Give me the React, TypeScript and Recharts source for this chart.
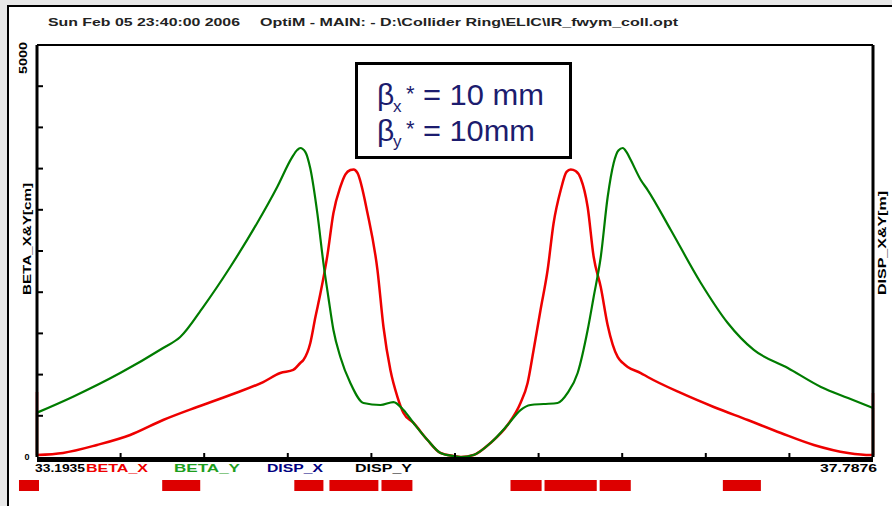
import React from 'react'
import { LineChart, Line, XAxis, YAxis, ReferenceArea } from 'recharts'

// s runs from the start of the plotted section (m); beta in cm
const S0 = 33.1935
const LEN = 4.5941

const BETA_X: [number, number][] = [
  [0, 24], [0.143, 49], [0.33, 146], [0.512, 267], [0.693, 449], [0.88, 607],
  [1.062, 752], [1.243, 910], [1.337, 1019], [1.408, 1056], [1.447, 1141], [1.464, 1177],
  [1.502, 1384], [1.53, 1699], [1.557, 1980], [1.596, 2450], [1.629, 2961], [1.667, 3277],
  [1.695, 3430], [1.722, 3483], [1.74, 3490], [1.761, 3447], [1.816, 2961], [1.871, 2269],
  [1.904, 1578], [1.942, 1056], [1.981, 728], [2.014, 534], [2.069, 413], [2.146, 206],
  [2.217, 49], [2.289, 12], [2.33, 0], [2.399, 24], [2.492, 170], [2.586, 388], [2.657, 655],
  [2.696, 898], [2.729, 1299], [2.767, 1784], [2.806, 2269], [2.839, 2840], [2.878, 3240],
  [2.91, 3460], [2.933, 3490], [2.96, 3470], [2.988, 3380], [3.026, 3034], [3.059, 2430],
  [3.098, 2063], [3.136, 1600], [3.191, 1214], [3.219, 1141], [3.246, 1092], [3.318, 1019],
  [3.356, 971], [3.538, 777], [3.719, 607], [3.906, 449], [4.088, 291], [4.269, 146],
  [4.457, 49], [4.583, 24], [4.5941, 24],
]

const BETA_Y: [number, number][] = [
  [0, 538], [0.198, 732], [0.457, 1019], [0.693, 1323], [0.787, 1456], [0.913, 1820],
  [1.062, 2306], [1.21, 2840], [1.32, 3277], [1.4, 3630], [1.43, 3726], [1.447, 3750],
  [1.475, 3700], [1.502, 3500], [1.541, 2950], [1.574, 2354], [1.601, 1942], [1.629, 1541],
  [1.667, 1214], [1.722, 898], [1.794, 655], [1.887, 631], [1.959, 667], [2.014, 570],
  [2.069, 413], [2.146, 206], [2.217, 49], [2.289, 12], [2.33, 0], [2.399, 24], [2.492, 170],
  [2.586, 388], [2.657, 570], [2.712, 631], [2.784, 643], [2.861, 655], [2.916, 777],
  [2.971, 1019], [3.026, 1541], [3.059, 1942], [3.098, 2427], [3.136, 3155], [3.169, 3568],
  [3.195, 3720], [3.219, 3750], [3.24, 3700], [3.263, 3604], [3.318, 3362], [3.356, 3240],
  [3.483, 2755], [3.648, 2112], [3.796, 1626], [3.939, 1299], [4.126, 1080], [4.308, 850],
  [4.457, 716], [4.5941, 595],
]

// vertical jumps drawn at the two ends of the section
const BETA_X_EDGES: [number, number][][] = [[[0, 789], [0, 24]], [[LEN, 24], [LEN, 777]]]
const BETA_Y_EDGES: [number, number][][] = [[[0, 0], [0, 538]], [[LEN, 595], [LEN, 0]]]

// magnet positions along s (start, end)
const MAGNETS: [number, number][] = [
  [-0.099, 0.011], [0.688, 0.897], [1.414, 1.574], [1.607, 1.876], [1.893, 2.063],
  [2.602, 2.773], [2.789, 3.076], [3.092, 3.263], [3.769, 3.978],
]

const BETA_MAX = 5000
const DISP_MAX = 5
const X_TICKS = Array.from({ length: 11 }, (_, i) => (i * LEN) / 10)
const BETA_TICKS = Array.from({ length: 11 }, (_, i) => (i * BETA_MAX) / 10)
const DISP_TICKS = Array.from({ length: 11 }, (_, i) => (i * DISP_MAX) / 10)

// the element strip sits below the axis, expressed in beta units
const MAGNET_BAND = [-413, -279]

const FONT = '"Liberation Sans", Arial, sans-serif'
const RED = '#ee0000'
const GREEN = '#007c00'
const NAVY = '#1c1c6e'

const toRows = (pts: [number, number][]) => pts.map(([s, beta]) => ({ s, beta }))

const lbl = { fontFamily: FONT, fontSize: 11, fontWeight: 700 } as const
const near = (a: number, b: number) => Math.abs(a - b) < 1e-6

function BottomTick(p: any) {
  const v = p.payload.value
  if (near(v, 0))
    return <text x={p.x - 2} y={p.y + 15} {...lbl} fill="#000" textLength={50} lengthAdjust="spacingAndGlyphs">{(S0 + v).toFixed(4)}</text>
  if (near(v, LEN))
    return <text x={p.x + 4} y={p.y + 15} {...lbl} fill="#000" textAnchor="end" textLength={57} lengthAdjust="spacingAndGlyphs">{(S0 + v).toFixed(4)}</text>
  return <line x1={p.x} x2={p.x} y1={p.y} y2={p.y - 4} stroke="#000" strokeWidth={2} />
}

function TopTick(p: any) {
  const v = p.payload.value
  if (near(v, 0) || near(v, LEN)) return <g />
  return <line x1={p.x} x2={p.x} y1={p.y} y2={p.y + 5} stroke="#000" strokeWidth={2} />
}

function LeftTick(p: any) {
  const v = p.payload.value
  if (v === 0) return <text x={p.x - 10} y={p.y + 3} {...lbl} fontSize={9} textAnchor="middle" fill="#000">0</text>
  if (v === BETA_MAX)
    return (
      <text transform={`translate(${p.x - 10},${p.y + 13}) rotate(-90)`} {...lbl} fontSize={10} textAnchor="middle" fill="#000" textLength={32} lengthAdjust="spacingAndGlyphs">
        {v}
      </text>
    )
  return <line x1={p.x} x2={p.x + 6} y1={p.y} y2={p.y} stroke="#000" strokeWidth={2} />
}

function RightTick(p: any) {
  const v = p.payload.value
  if (v === 0) return <text x={p.x + 9} y={p.y + 3} {...lbl} fontSize={9} textAnchor="middle" fill="#000">0</text>
  if (v === DISP_MAX)
    return (
      <text transform={`translate(${p.x + 9},${p.y + 4}) rotate(-90)`} {...lbl} fontSize={10} textAnchor="middle" fill="#000">
        {v}
      </text>
    )
  return <line x1={p.x} x2={p.x - 6} y1={p.y} y2={p.y} stroke="#000" strokeWidth={2} />
}

export default function App() {
  return (
    <div style={{ position: 'relative', width: 892, height: 506, background: '#e8e8e8', overflow: 'hidden' }}>
      <style>{'body{margin:0}'}</style>
      <div style={{ position: 'absolute', left: 7, top: 5, width: 900, height: 520, background: '#fff', borderLeft: '2px solid #000', borderTop: '2px solid #000' }} />
      <div style={{ position: 'absolute', left: 0, top: 0 }}>
        <LineChart width={892} height={506} margin={{ top: 44, right: 18, bottom: 48, left: 36 }}>
          <XAxis
            xAxisId="b" type="number" dataKey="s" domain={[0, LEN]} ticks={X_TICKS} interval={0}
            height={1} tickSize={0} tickMargin={0} tickLine={false} tick={BottomTick}
            axisLine={{ stroke: '#000', strokeWidth: 5, transform: 'translate(0 2.5)' }}
          />
          <XAxis
            xAxisId="t" orientation="top" type="number" domain={[0, LEN]} ticks={X_TICKS} interval={0}
            height={1} tickSize={0} tickMargin={0} tickLine={false} tick={TopTick}
            axisLine={{ stroke: '#000', strokeWidth: 2 }}
          />
          <YAxis
            yAxisId="beta" type="number" domain={[0, BETA_MAX]} ticks={BETA_TICKS} interval={0}
            width={1} tickSize={0} tickMargin={0} tickLine={false} tick={LeftTick}
            axisLine={{ stroke: '#000', strokeWidth: 3 }}
          />
          <YAxis
            yAxisId="disp" orientation="right" type="number" domain={[0, DISP_MAX]} ticks={DISP_TICKS} interval={0}
            width={1} tickSize={0} tickMargin={0} tickLine={false} tick={RightTick}
            axisLine={{ stroke: '#000', strokeWidth: 3 }}
          />
          {MAGNETS.map(([a, b], i) => (
            <ReferenceArea
              key={i} xAxisId="b" yAxisId="beta" x1={a} x2={b} y1={MAGNET_BAND[0]} y2={MAGNET_BAND[1]}
              ifOverflow="visible" fill="#dd0000" fillOpacity={1} stroke="none"
            />
          ))}
          {BETA_X_EDGES.map((seg, i) => (
            <Line key={'xe' + i} xAxisId="b" yAxisId="beta" data={toRows(seg)} dataKey="beta" type="linear" stroke={RED} strokeWidth={2.5} dot={false} isAnimationActive={false} />
          ))}
          <Line xAxisId="b" yAxisId="beta" data={toRows(BETA_X)} dataKey="beta" type="monotone" stroke={RED} strokeWidth={2.5} dot={false} isAnimationActive={false} />
          {BETA_Y_EDGES.map((seg, i) => (
            <Line key={'ye' + i} xAxisId="b" yAxisId="beta" data={toRows(seg)} dataKey="beta" type="linear" stroke={GREEN} strokeWidth={2.2} dot={false} isAnimationActive={false} />
          ))}
          <Line xAxisId="b" yAxisId="beta" data={toRows(BETA_Y)} dataKey="beta" type="monotone" stroke={GREEN} strokeWidth={2.2} dot={false} isAnimationActive={false} />
        </LineChart>
      </div>
      <svg width={892} height={506} style={{ position: 'absolute', left: 0, top: 0, pointerEvents: 'none' }}>
        <text x={48} y={26} {...lbl} fill="#222" textLength={192} lengthAdjust="spacingAndGlyphs">Sun Feb 05 23:40:00 2006</text>
        <text x={260} y={26} {...lbl} fill="#222" textLength={418} lengthAdjust="spacingAndGlyphs">
          {'OptiM - MAIN: - D:\\Collider Ring\\ELIC\\IR_fwym_coll.opt'}
        </text>

        <text transform="translate(31,239) rotate(-90)" {...lbl} fill="#000" textAnchor="middle" textLength={112} lengthAdjust="spacingAndGlyphs">BETA_X&amp;Y[cm]</text>
        <text transform="translate(886,243) rotate(-90)" {...lbl} fill="#000" textAnchor="middle" textLength={104} lengthAdjust="spacingAndGlyphs">DISP_X&amp;Y[m]</text>

        <text x={86} y={472} {...lbl} fill={RED} textLength={62} lengthAdjust="spacingAndGlyphs">BETA_X</text>
        <text x={174} y={472} {...lbl} fill="#1e9e1e" textLength={66} lengthAdjust="spacingAndGlyphs">BETA_Y</text>
        <text x={267} y={472} {...lbl} fill="#000080" textLength={56} lengthAdjust="spacingAndGlyphs">DISP_X</text>
        <text x={355} y={472} {...lbl} fill="#000" textLength={57} lengthAdjust="spacingAndGlyphs">DISP_Y</text>

        <rect x={356.5} y={63.5} width={214} height={94} fill="#fff" stroke="#000" strokeWidth={3} />
        <g fontFamily={FONT} fill={NAVY}>
          <text x={377} y={105} fontSize={30}>β</text>
          <text x={393} y={112} fontSize={17}>x</text>
          <text x={406} y={101} fontSize={22}>*</text>
          <text x={423} y={105} fontSize={30} textLength={121} lengthAdjust="spacingAndGlyphs">= 10 mm</text>
          <text x={377} y={141} fontSize={30}>β</text>
          <text x={393} y={147} fontSize={17}>y</text>
          <text x={406} y={136} fontSize={22}>*</text>
          <text x={423} y={141} fontSize={30} textLength={112} lengthAdjust="spacingAndGlyphs">= 10mm</text>
        </g>
      </svg>
    </div>
  )
}
